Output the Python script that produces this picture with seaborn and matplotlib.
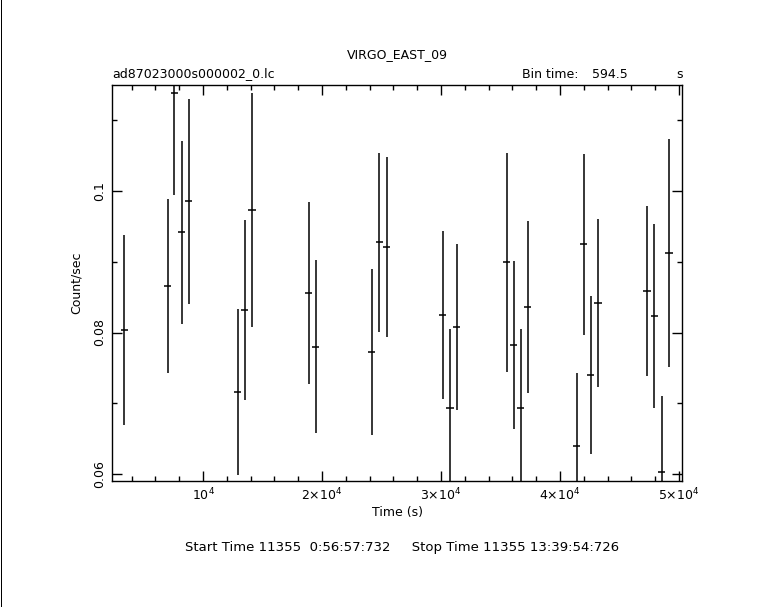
import matplotlib
matplotlib.use('Agg')
import matplotlib.pyplot as plt
import seaborn as sns
import numpy as np
import pandas as pd
from matplotlib.lines import Line2D
from matplotlib.ticker import MultipleLocator, FixedLocator

# light curve values
time_s = [3387, 7025, 7588, 8202, 8790, 12907, 13496, 14117, 18874, 19462,
          24167, 24815, 25428, 30134, 30755, 31310, 35512, 36100, 36688, 37276,
          41394, 41982, 42570, 43192, 47309, 47923, 48537, 49158]
rate = [0.08037, 0.08654, 0.11380, 0.09417, 0.09855, 0.07158, 0.08320, 0.09732,
        0.08560, 0.07797, 0.07722, 0.09276, 0.09209, 0.08245, 0.06932, 0.08075,
        0.08993, 0.07821, 0.06932, 0.08358, 0.06395, 0.09247, 0.07398, 0.08414,
        0.08584, 0.08231, 0.06028, 0.09125]
rate_err = [0.01346, 0.01233, 0.01432, 0.01297, 0.01454, 0.01176, 0.01269, 0.01648,
            0.01285, 0.01224, 0.01170, 0.01269, 0.01271, 0.01184, 0.01124, 0.01170,
            0.01546, 0.01184, 0.01124, 0.01219, 0.01035, 0.01283, 0.01120, 0.01191,
            0.01202, 0.01304, 0.01077, 0.01612]
bin_time = 594.5

x_ticks = [10000, 20000, 30000, 40000, 50000]
x_labels = [r'$10^4$', r'$2{\times}10^4$', r'$3{\times}10^4$', r'$4{\times}10^4$', r'$5{\times}10^4$']
y_ticks = [0.06, 0.08, 0.1]
y_labels = ['0.06', '0.08', '0.1']

df = pd.DataFrame({'time': time_s, 'rate': rate, 'err': rate_err})

sns.set_theme(style='ticks', rc={'text.color': 'black', 'axes.labelcolor': 'black',
                                 'xtick.color': 'black', 'ytick.color': 'black',
                                 'axes.edgecolor': 'black'})
plt.rcParams['font.family'] = ['DejaVu Sans']
plt.rcParams['mathtext.fontset'] = 'dejavusans'

fig = plt.figure(figsize=(7.61, 6.07), dpi=100)
ax = fig.add_axes([112/761, 1-481/607, 570/761, 396/607])

ax.errorbar(df['time'], df['rate'], yerr=df['err'], xerr=bin_time/2,
            fmt='none', ecolor='black', elinewidth=1.1, capsize=0)

ax.set_xlim(2350, 50250)
ax.set_ylim(0.0590, 0.1150)

ax.xaxis.set_major_locator(FixedLocator(x_ticks))
ax.set_xticklabels(x_labels, fontsize=9)
ax.xaxis.set_minor_locator(MultipleLocator(2000))
ax.yaxis.set_major_locator(FixedLocator(y_ticks))
ax.set_yticklabels(y_labels, fontsize=9, rotation=90, va='center')
ax.yaxis.set_minor_locator(MultipleLocator(0.01))

ax.tick_params(which='both', direction='in', top=True, right=True,
               bottom=True, left=True, color='black', width=1)
ax.tick_params(which='major', length=7, pad=4)
ax.tick_params(which='minor', length=3.5)
for s in ax.spines.values():
    s.set_color('black')
    s.set_linewidth(1)

ax.set_xlabel('Time (s)', fontsize=9, labelpad=2)
ax.set_ylabel('Count/sec', fontsize=9, labelpad=8)

fig.text(397/761, 1-55/607, 'VIRGO_EAST_09', fontsize=9, ha='center', va='center')
fig.text(112/761, 1-74/607, 'ad87023000s000002_0.lc', fontsize=9, ha='left', va='center')
fig.text(522/761, 1-74/607, 'Bin time:', fontsize=9, ha='left', va='center')
fig.text(628/761, 1-74/607, '594.5', fontsize=9, ha='right', va='center')
fig.text(676/761, 1-74/607, 's', fontsize=9, ha='left', va='center')
fig.text(402/761, 1-548/607,
         'Start Time 11355  0:56:57:732     Stop Time 11355 13:39:54:726',
         fontsize=9.5, ha='center', va='center')

# thin black rule along the left edge of the frame
fig.add_artist(Line2D([0.5/761, 0.5/761], [0, 1], color='black', lw=0.72,
                      antialiased=False, transform=fig.transFigure))

fig.savefig('out.png', dpi=100, facecolor='white')
